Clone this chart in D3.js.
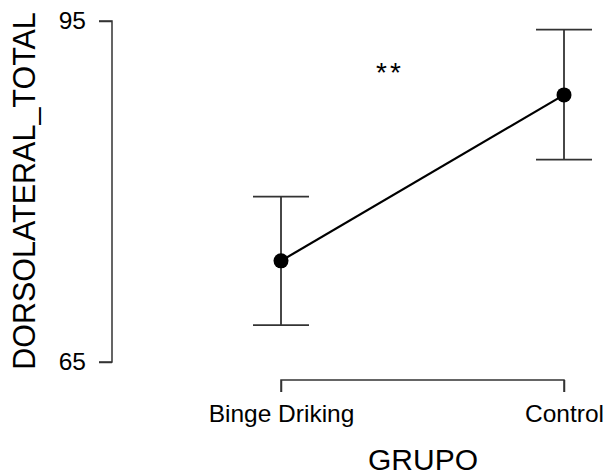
<!DOCTYPE html>
<html><head><meta charset="utf-8">
<script src="https://cdn.jsdelivr.net/npm/d3@7"></script>
<style>body{margin:0;background:#fff}svg{display:block}</style>
</head><body>
<script>
const categories = ["Binge Driking", "Control"];
const means = [73.9, 88.5];
const lower = [68.25, 82.8];
const upper = [79.55, 94.25];
const yTicks = [65, 95];
const yLabel = "DORSOLATERAL_TOTAL";
const xLabel = "GRUPO";
const sigLabel = "**";

const W = 615, H = 475;
const svg = d3.select("body").append("svg").attr("width", W).attr("height", H);
const font = "Liberation Sans, Arial, sans-serif";

const x = d3.scalePoint().domain(categories).range([281, 564]);
const y = d3.scaleLinear().domain([65, 95]).range([362, 21]);

// Y axis
const yAxis = svg.append("g").attr("transform", "translate(112,0)")
  .call(d3.axisLeft(y).tickValues(yTicks).tickSize(13).tickPadding(13));
yAxis.select(".domain").attr("stroke", "#333").attr("stroke-width", 1.5).attr("d", `M-13,${y(95)}H0V${y(65)}H-13`);
yAxis.selectAll(".tick line").attr("stroke", "#333").attr("stroke-width", 1.5);
yAxis.selectAll(".tick text").attr("font-family", font).attr("font-size", 24.5).attr("fill", "#000");

// X axis bracket
const xAxis = svg.append("g").attr("transform", "translate(0,380)")
  .call(d3.axisBottom(x).tickSize(12).tickPadding(13));
xAxis.select(".domain").attr("stroke", "#333").attr("stroke-width", 1.5)
  .attr("d", `M${x(categories[0])},12V0H${x(categories[1])}V12`);
xAxis.selectAll(".tick line").attr("stroke", "#333").attr("stroke-width", 1.5);
xAxis.selectAll(".tick text").attr("font-family", font).attr("font-size", 24.5).attr("fill", "#000");

// Axis titles
svg.append("text").attr("x", 423).attr("y", 470).attr("text-anchor", "middle")
  .attr("font-family", font).attr("font-size", 30).text(xLabel);
svg.append("text").attr("transform", "translate(35,191) rotate(-90)").attr("text-anchor", "middle")
  .attr("font-family", font).attr("font-size", 30.5).text(yLabel);

// Error bars
const g = svg.append("g");
categories.forEach((c, i) => {
  const cx = x(c);
  g.append("line").attr("x1", cx).attr("x2", cx).attr("y1", y(lower[i])).attr("y2", y(upper[i]))
    .attr("stroke", "#333").attr("stroke-width", 1.8);
  [lower[i], upper[i]].forEach(v => {
    g.append("line").attr("x1", cx - 28).attr("x2", cx + 28).attr("y1", y(v)).attr("y2", y(v))
      .attr("stroke", "#333").attr("stroke-width", 1.8);
  });
});

// Line
const line = d3.line().x((d, i) => x(categories[i])).y(d => y(d));
g.append("path").datum(means).attr("d", line).attr("fill", "none").attr("stroke", "#000").attr("stroke-width", 2.2);

// Points
g.selectAll("circle").data(means).join("circle")
  .attr("cx", (d, i) => x(categories[i])).attr("cy", d => y(d)).attr("r", 7.5).attr("fill", "#000");

// Significance
svg.append("text").attr("x", 390).attr("y", 82).attr("text-anchor", "middle")
  .attr("font-family", font).attr("font-size", 28).attr("letter-spacing", 3).text(sigLabel);
</script>
</body></html>
